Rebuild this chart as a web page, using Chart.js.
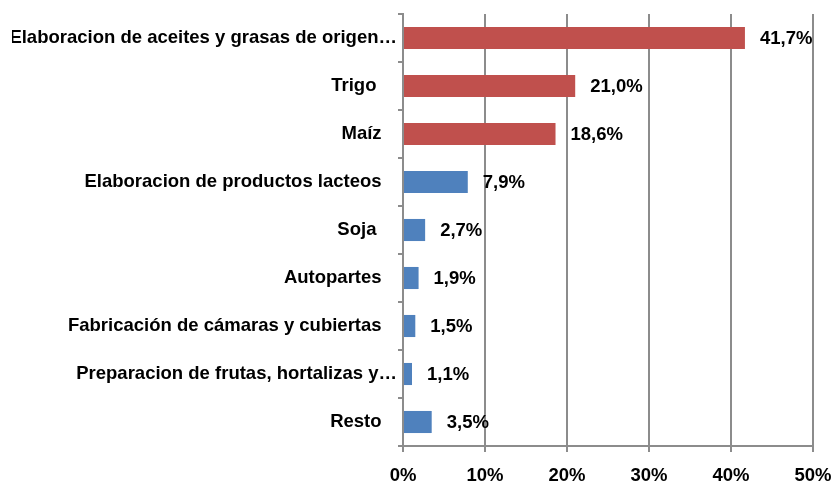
<!DOCTYPE html>
<html>
<head>
<meta charset="utf-8">
<script src="https://cdn.jsdelivr.net/npm/chart.js@4/dist/chart.umd.min.js"></script>
<style>
  html, body { margin: 0; padding: 0; background: #fff; }
  #wrap { width: 836px; height: 482px; position: relative; }
</style>
</head>
<body>
<div id="wrap"><canvas id="barChart"></canvas></div>
<script>
// Data
const categories = [
    'Elaboracion de aceites y grasas de origen…',
    'Trigo    ',
    'Maíz   ',
    'Elaboracion de productos lacteos   ',
    'Soja    ',
    'Autopartes   ',
    'Fabricación de cámaras y cubiertas   ',
    'Preparacion de frutas, hortalizas y…',
    'Resto   '
];
const shares = [41.7, 21.0, 18.6, 7.9, 2.7, 1.9, 1.5, 1.1, 3.5];
const barColors = ['#C0504D', '#C0504D', '#C0504D', '#4F81BD', '#4F81BD', '#4F81BD', '#4F81BD', '#4F81BD', '#4F81BD'];
const xTicks = [0, 10, 20, 30, 40, 50];

const FONT = 'Liberation Sans';
const FSIZE = 18.5;

// Value labels at the end of each bar
const valueLabels = {
    id: 'valueLabels',
    afterDatasetsDraw(chart) {
        const ctx = chart.ctx;
        const meta = chart.getDatasetMeta(0);
        ctx.save();
        ctx.font = 'bold ' + FSIZE + 'px "' + FONT + '"';
        ctx.fillStyle = '#000';
        ctx.textAlign = 'left';
        ctx.textBaseline = 'middle';
        meta.data.forEach((bar, i) => {
            ctx.fillText(shares[i].toFixed(1).replace('.', ',') + '%', bar.x + 15, bar.y + 1);
        });
        ctx.restore();
    }
};

const ctx = document.getElementById('barChart').getContext('2d');
new Chart(ctx, {
    type: 'bar',
    data: {
        labels: categories,
        datasets: [{
            data: shares,
            backgroundColor: barColors,
            barPercentage: 0.46,
            categoryPercentage: 1.0
        }]
    },
    options: {
        indexAxis: 'y',
        responsive: true,
        maintainAspectRatio: false,
        animation: false,
        layout: { padding: { left: 12, right: 23, top: 14, bottom: 0 } },
        plugins: {
            legend: { display: false },
            tooltip: { enabled: false }
        },
        scales: {
            x: {
                min: 0,
                max: 50,
                afterBuildTicks: (s) => { s.ticks = xTicks.map(v => ({ value: v })); },
                afterFit: (s) => { s.height = 36; s.paddingLeft = 0; s.paddingRight = 0; },
                ticks: {
                    callback: (v) => v + '%',
                    color: '#000',
                    font: { family: FONT, size: FSIZE, weight: 'bold' },
                    padding: 13,
                    maxRotation: 0
                },
                grid: { color: '#8C8C8C', lineWidth: 2, tickLength: 6 },
                border: { color: '#8C8C8C', width: 2 }
            },
            y: {
                afterFit: (s) => { s.width = 391; },
                ticks: {
                    color: '#000',
                    font: { family: FONT, size: FSIZE, weight: 'bold' },
                    padding: 1,
                    autoSkip: false
                },
                grid: { drawOnChartArea: false, color: '#8C8C8C', lineWidth: 2, tickLength: 5 },
                border: { color: '#8C8C8C', width: 2 }
            }
        }
    },
    plugins: [valueLabels]
});
</script>
</body>
</html>
